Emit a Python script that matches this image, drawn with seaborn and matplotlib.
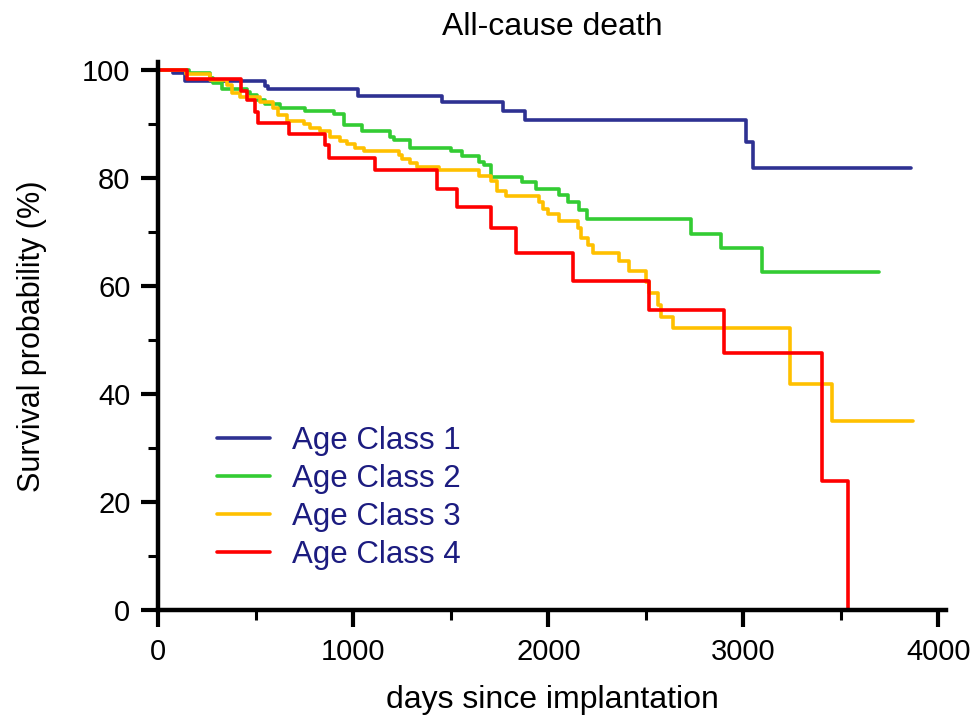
import numpy as np
import pandas as pd
import seaborn as sns
import matplotlib
matplotlib.use("Agg")
import matplotlib.pyplot as plt
from matplotlib.ticker import MultipleLocator

# step curves (days, survival %); last point = end of follow-up
class1_days = [0, 76, 136, 548, 565, 1025, 1453, 1770, 1882, 3013, 3050, 3861]
class1_surv = [100, 99.4, 97.9, 97.0, 96.4, 95.1, 94.0, 92.3, 90.7, 86.7, 81.9, 81.9]

class2_days = [0, 160, 265, 280, 325, 455, 470, 505, 548, 625, 753, 899, 950, 1045,
               1190, 1207, 1290, 1499, 1559, 1645, 1670, 1704, 1867, 1936, 2056, 2099,
               2159, 2198, 2729, 2887, 3093, 3696]
class2_surv = [100, 99.5, 98.5, 97.5, 96.5, 95.9, 95.3, 94.5, 93.6, 93.0, 92.4, 91.8, 89.7, 88.6,
               87.6, 87.0, 85.6, 84.9, 84.0, 83.0, 82.4, 80.2, 79.2, 77.9, 76.8, 75.6,
               74.1, 72.4, 69.7, 67.0, 62.6, 62.6]

class3_days = [0, 140, 265, 350, 376, 419, 522, 590, 616, 659, 745, 779, 830, 882, 933, 968,
               1010, 1053, 1233, 1250, 1293, 1328, 1439, 1645, 1704, 1739, 1782, 1953, 1970,
               1996, 2056, 2150, 2167, 2201, 2227, 2364, 2416, 2501, 2518, 2561, 2578, 2638,
               3238, 3452, 3872]
class3_surv = [100, 99.2, 98.1, 97.2, 95.8, 95.0, 94.0, 93.0, 91.7, 90.6, 89.9, 89.3, 88.7, 87.5,
               86.8, 86.2, 85.6, 85.0, 84.3, 83.4, 82.8, 82.0, 81.4, 80.4, 79.4, 77.6, 76.7,
               75.5, 74.2, 73.3, 72.0, 70.8, 68.9, 67.6, 66.1, 64.6, 62.8, 60.8, 58.7, 56.5,
               54.2, 52.2, 41.9, 34.9, 34.9]

class4_days = [0, 145, 423, 453, 496, 513, 668, 856, 873, 1113, 1430, 1533, 1704, 1835,
               2124, 2518, 2900, 3401, 3538]
class4_surv = [100, 98.3, 96.0, 94.5, 92.2, 90.2, 88.1, 86.0, 83.7, 81.4, 77.9, 74.6, 70.8,
               66.1, 61.0, 55.5, 47.6, 23.8, 0]

group_names = ["Age Class 1", "Age Class 2", "Age Class 3", "Age Class 4"]
group_colors = ["#2e3192", "#33cc33", "#ffc000", "#ff0000"]

frames = []
for name, d, s in zip(group_names,
                      [class1_days, class2_days, class3_days, class4_days],
                      [class1_surv, class2_surv, class3_surv, class4_surv]):
    frames.append(pd.DataFrame({"days": d, "surv": s, "group": name}))
df = pd.concat(frames, ignore_index=True)

sns.set_theme(style="ticks")
plt.rcParams["font.family"] = ["Liberation Sans", "DejaVu Sans"]

fig = plt.figure(figsize=(9.74, 7.16), dpi=100)
ax = fig.add_axes([0.1625, 0.148, 0.809, 0.7658])

sns.lineplot(data=df, x="days", y="surv", hue="group", hue_order=group_names,
             palette=dict(zip(group_names, group_colors)), estimator=None,
             drawstyle="steps-post", linewidth=2.6, ax=ax)

ax.set_xlim(0, 4040)
ax.set_ylim(0, 101.5)
ax.xaxis.set_major_locator(MultipleLocator(1000))
ax.xaxis.set_minor_locator(MultipleLocator(500))
ax.yaxis.set_major_locator(MultipleLocator(20))
ax.yaxis.set_minor_locator(MultipleLocator(10))

sns.despine(ax=ax)
for side in ["left", "bottom"]:
    ax.spines[side].set_linewidth(3.2)
    ax.spines[side].set_color("black")
ax.tick_params(which="major", direction="out", length=12, width=3, color="black",
               labelsize=21, pad=8, labelcolor="black")
ax.tick_params(which="minor", direction="out", length=7, width=2.2, color="black")

ax.set_xlabel("days since implantation", fontsize=23, labelpad=14, color="black")
ax.set_ylabel("Survival probability (%)", fontsize=22, labelpad=25, color="black")
ax.set_title("All-cause death", fontsize=23, pad=19, color="black")

handles, labels = ax.get_legend_handles_labels()
ax.legend(handles, labels, loc="upper left", bbox_to_anchor=(0.075, 0.336),
          frameon=False, fontsize=22.5, labelcolor="#1c1c80", handlelength=1.7,
          handletextpad=0.7, labelspacing=0.26, borderpad=0, borderaxespad=0)

fig.savefig("out.png", dpi=100)
